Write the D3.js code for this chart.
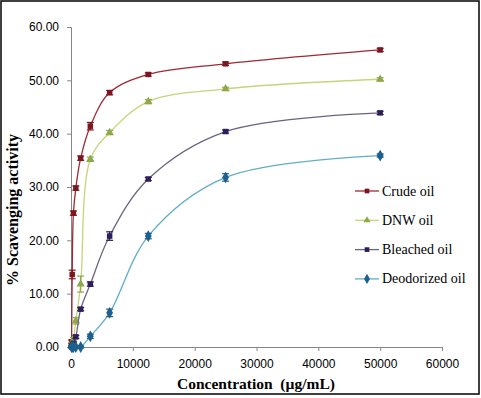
<!DOCTYPE html>
<html>
<head>
<meta charset="utf-8">
<script src="https://cdn.jsdelivr.net/npm/d3@7"></script>
<style>
body { margin: 0; background: #fff; }
svg text { fill: #000; }
.serif { font-family: "Liberation Serif", "Times New Roman", Times, serif; }
.sans { font-family: "Liberation Sans", Arial, sans-serif; }
</style>
</head>
<body>
<div id="chart"></div>
<script>
// concentrations (ug/mL), dilution series
var concentration = [97.66, 195.31, 390.63, 781.25, 1562.5, 3125, 6250, 12500, 25000, 50000];

var crudeOil = [1.0, 13.6, 25.1, 29.8, 35.4, 41.4, 47.7, 51.1, 53.1, 55.7];
var crudeErr = [0.3, 0.8, 0.4, 0.4, 0.4, 0.7, 0.4, 0.3, 0.3, 0.3];
var dnwOil = [0.2, 0.5, 1.4, 4.9, 11.8, 35.2, 40.2, 46.0, 48.4, 50.2];
var dnwErr = [0.2, 0.3, 0.4, 0.6, 1.5, 0.4, 0.4, 0.4, 0.3, 0.3];
var bleachedOil = [0.0, 0.2, 0.7, 1.9, 7.1, 11.8, 20.8, 31.5, 40.4, 43.9];
var bleachedErr = [0.1, 0.1, 0.2, 0.3, 0.3, 0.4, 0.8, 0.3, 0.3, 0.3];
var deodorizedOil = [0.0, 0.0, 0.0, 0.0, 0.0, 2.0, 6.4, 20.8, 31.8, 35.9];
var deodorizedErr = [0.2, 0.2, 0.2, 0.2, 0.2, 0.4, 0.7, 0.5, 0.7, 0.3];

var seriesNames = ["Crude oil", "DNW oil", "Bleached oil", "Deodorized oil"];
var xTicks = [0, 10000, 20000, 30000, 40000, 50000, 60000];
var yTicks = [0, 10, 20, 30, 40, 50, 60];

var series = [
	{name: seriesNames[0], values: crudeOil, err: crudeErr, line: "#9e2a35", mark: "#7d1620", shape: d3.symbolSquare},
	{name: seriesNames[1], values: dnwOil, err: dnwErr, line: "#c6d47a", mark: "#8fa84a", shape: d3.symbolTriangle},
	{name: seriesNames[2], values: bleachedOil, err: bleachedErr, line: "#6d6282", mark: "#2c1f5a", shape: d3.symbolSquare},
	{name: seriesNames[3], values: deodorizedOil, err: deodorizedErr, line: "#62aec6", mark: "#1d5f8e", shape: d3.symbolDiamond}
];

var width = 481, height = 398;
var svg = d3.select("#chart").append("svg")
	.attr("width", width)
	.attr("height", height);

// outer frame
svg.append("rect")
	.attr("x", 1).attr("y", 1)
	.attr("width", width - 3).attr("height", height - 5)
	.attr("fill", "none")
	.attr("stroke", "#000")
	.attr("stroke-width", 1.5);

var x = d3.scaleLinear().domain([0, 60000]).range([71, 442]);
var y = d3.scaleLinear().domain([0, 60]).range([347, 27]);

var xAxis = svg.append("g")
	.attr("transform", "translate(0," + y(0) + ")")
	.call(d3.axisBottom(x).tickValues(xTicks).tickSize(4).tickPadding(8).tickFormat(d3.format("d")));
var yAxis = svg.append("g")
	.attr("transform", "translate(" + x(0) + ",0)")
	.call(d3.axisLeft(y).tickValues(yTicks).tickSize(4).tickPadding(8).tickFormat(d3.format(".2f")));

[xAxis, yAxis].forEach(function(a) {
	a.attr("font-family", null).attr("font-size", null);
	a.select(".domain").attr("stroke", "#868686");
	a.selectAll(".tick line").attr("stroke", "#868686");
	a.selectAll(".tick text")
		.attr("class", "sans")
		.style("font-size", "12px")
		.attr("fill", "#111");
});

// axis titles
svg.append("text")
	.attr("class", "serif")
	.attr("x", 256).attr("y", 389)
	.attr("text-anchor", "middle")
	.style("white-space", "pre")
	.style("font-weight", "bold")
	.style("font-size", "15.5px")
	.text("Concentration  (\u00b5g/mL)");

svg.append("text")
	.attr("class", "serif")
	.attr("transform", "translate(18,210) rotate(-90)")
	.attr("text-anchor", "middle")
	.style("font-weight", "bold")
	.style("font-size", "16px")
	.text("% Scavenging activity");

var line = d3.line()
	.x(function(d) { return x(d.c); })
	.y(function(d) { return y(d.v); })
	.curve(d3.curveCatmullRom.alpha(0.5));

series.forEach(function(s) {
	var pts = concentration.map(function(c, i) { return {c: c, v: s.values[i], e: s.err[i]}; });
	var g = svg.append("g");

	g.append("path")
		.datum(pts)
		.attr("d", line)
		.attr("fill", "none")
		.attr("stroke", s.line)
		.attr("stroke-width", 1.3);

	// error bars
	var eb = g.selectAll(".err").data(pts).enter().append("g");
	eb.append("line")
		.attr("x1", function(d) { return x(d.c); })
		.attr("x2", function(d) { return x(d.c); })
		.attr("y1", function(d) { return y(d.v + d.e); })
		.attr("y2", function(d) { return y(Math.max(0, d.v - d.e)); })
		.attr("stroke", s.mark).attr("stroke-width", 1.2);
	[1, -1].forEach(function(sign) {
		eb.append("line")
			.attr("x1", function(d) { return x(d.c) - 3.5; })
			.attr("x2", function(d) { return x(d.c) + 3.5; })
			.attr("y1", function(d) { return y(d.v + sign * d.e); })
			.attr("y2", function(d) { return y(d.v + sign * d.e); })
			.attr("stroke", s.mark).attr("stroke-width", 1.2);
	});

	g.selectAll(".pt").data(pts).enter().append("path")
		.attr("transform", function(d) { return "translate(" + x(d.c) + "," + y(d.v) + ")"; })
		.attr("d", d3.symbol().type(s.shape).size(s.shape === d3.symbolDiamond ? 40 : 30))
		.attr("fill", s.mark);
});

// legend
var legend = svg.append("g").attr("transform", "translate(355,191)");
series.forEach(function(s, i) {
	var row = legend.append("g").attr("transform", "translate(0," + (i * 29.3) + ")");
	row.append("line")
		.attr("x1", 0).attr("x2", 24)
		.attr("stroke", s.line).attr("stroke-width", 1.3);
	row.append("path")
		.attr("transform", "translate(12,0)")
		.attr("d", d3.symbol().type(s.shape).size(s.shape === d3.symbolDiamond ? 30 : 22))
		.attr("fill", s.mark);
	row.append("text")
		.attr("class", "serif")
		.attr("x", 27).attr("y", 4.5)
		.style("font-size", "14px")
		.text(s.name);
});
</script>
</body>
</html>
